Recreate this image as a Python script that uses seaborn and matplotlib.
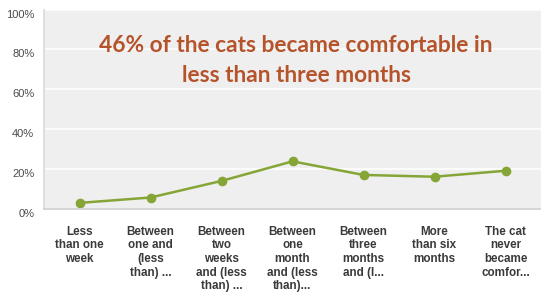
import matplotlib
matplotlib.use("Agg")
import matplotlib.pyplot as plt
import matplotlib.transforms as mtransforms
import seaborn as sns
import pandas as pd

categories = [
    "Less\nthan one\nweek",
    "Between\none and\n(less\nthan) ...",
    "Between\ntwo\nweeks\nand (less\nthan) ...",
    "Between\none\nmonth\nand (less\nthan)...",
    "Between\nthree\nmonths\nand (l...",
    "More\nthan six\nmonths",
    "The cat\nnever\nbecame\ncomfor...",
]
values = [3.2, 5.9, 14.2, 24.0, 17.2, 16.3, 19.3]
yticks = [0, 20, 40, 60, 80, 100]
ytick_labels = ["0%", "20%", "40%", "60%", "80%", "100%"]
title = "46% of the cats became comfortable in\nless than three months"

df = pd.DataFrame({"cat": range(len(categories)), "val": values})

sns.set_style("white")
plt.rcParams["font.family"] = ["Liberation Sans", "DejaVu Sans"]

fig = plt.figure(figsize=(5.41, 2.95), dpi=100)
ax = fig.add_axes([44 / 541, 1 - 209.3 / 295, 497 / 541, (209.3 - 9.5) / 295])
ax.set_facecolor("#efefef")

green = "#86a537"
sns.lineplot(data=df, x="cat", y="val", ax=ax, color=green, linewidth=1.8,
             marker="o", markersize=7, markeredgewidth=0, markeredgecolor=green)

ax.set_xlim(-0.5, len(categories) - 0.5)
ax.set_ylim(0, 100)
ax.set_yticks(yticks)
ax.set_yticklabels(ytick_labels, fontsize=8, color="#4a4a4a")
ax.set_xticks(range(len(categories)))
ax.set_xticklabels(categories, fontsize=8.4, color="#3a3a3a", fontweight="bold",
                   linespacing=1.17, va="top")
ax.tick_params(axis="both", length=0)
ax.tick_params(axis="y", pad=7)
ax.tick_params(axis="x", pad=12)
offset = mtransforms.ScaledTranslation(0, -4 / 100, fig.dpi_scale_trans)
for lbl in ax.get_yticklabels():
    lbl.set_transform(lbl.get_transform() + offset)

for y in yticks[1:]:
    ax.axhline(y, color="white", linewidth=1.1, zorder=0.5)

for s in ["top", "right"]:
    ax.spines[s].set_visible(False)
ax.spines["left"].set_color("#d9d9d9")
ax.spines["left"].set_linewidth(1.2)
ax.spines["bottom"].set_color("#d0d0d0")
ax.spines["bottom"].set_linewidth(1.2)
ax.set_xlabel("")
ax.set_ylabel("")

fig.text(296 / 541, 1 - 60.5 / 295, title, ha="center", va="center",
         fontsize=16.4, fontweight="bold", color="#b5532a",
         family=["Lato", "DejaVu Sans"], linespacing=1.5)

fig.savefig("out.png", dpi=100, facecolor="white")
